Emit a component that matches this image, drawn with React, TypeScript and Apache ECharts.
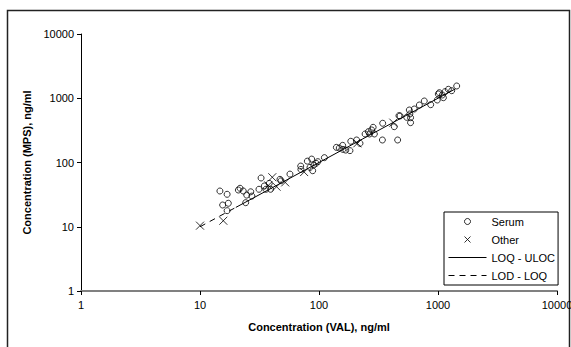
import React, { useEffect, useRef } from 'react';
import * as echarts from 'echarts';

// Serum samples: VAL concentration (x) vs MPS concentration (y), ng/ml
const serumX = [14.7, 16.9, 15.5, 17.3, 16.9, 21, 21.7, 23.1, 24.7, 26.7, 27.3, 24.2, 32.6, 31.3, 34.7, 35.8, 38.2, 39.2, 47, 48, 57, 70.2, 70.5, 79.8, 86.8, 84, 88.5, 90.5, 94.4, 97.8, 111, 140, 148, 158, 159, 168, 182, 185, 207, 221, 244, 260, 277, 285, 292, 266, 343, 341, 429, 458, 470, 480, 546, 574, 580, 588, 588, 632, 697, 767, 868, 986, 1006, 1026, 1087, 1110, 1145, 1222, 1304, 1436];
const serumY = [36, 32, 21.8, 23.2, 17.8, 37.3, 39.7, 36, 31.1, 35, 30, 23.7, 57.4, 38.3, 43.1, 38.3, 47.4, 38.3, 54.7, 52, 66, 88, 78, 105, 113, 84, 74.5, 91.4, 97.2, 103, 119, 172, 168, 185, 160, 156, 153, 214, 224, 199, 278, 302, 321, 353, 278, 278, 408, 224, 361, 224, 535, 530, 505, 656, 569, 498, 417, 680, 785, 906, 794, 939, 1164, 1220, 1124, 1020, 1265, 1377, 1312, 1552];

// Other samples
const otherX = [10, 15.7, 37.5, 40.5, 44, 52, 75, 210, 421];
const otherY = [10.4, 12.4, 44, 59, 42, 49, 71, 199, 417];

// Identity lines
const lodLoqX = [10, 20];
const lodLoqY = [10, 20];
const loqUlocX = [20, 1400];
const loqUlocY = [20, 1400];

const axisTicks = [1, 10, 100, 1000, 10000];

const FONT = '"Liberation Sans", Arial, sans-serif';

const zip = (xs: number[], ys: number[]) => xs.map((x, i) => [x, ys[i]]);

const hiddenSymbol = {
  color: 'rgba(0,0,0,0)',
  borderColor: 'rgba(0,0,0,0)',
  borderWidth: 0,
  opacity: 0,
};

export default function App() {
  const ref = useRef<HTMLDivElement>(null);
  useEffect(() => {
    if (!ref.current) return;
    const chart = echarts.init(ref.current, undefined, { renderer: 'svg' });
    const axisCommon = {
      type: 'log' as const,
      logBase: 10,
      min: axisTicks[0],
      max: axisTicks[axisTicks.length - 1],
      splitLine: { show: false },
      minorTick: { show: false },
      axisLabel: {
        fontFamily: FONT,
        fontSize: 11,
        color: '#000',
        formatter: (v: number) => String(Math.round(v)),
      },
      nameLocation: 'middle' as const,
      nameTextStyle: { fontFamily: FONT, fontSize: 11, fontWeight: 'bold' as const, color: '#000' },
    };
    chart.setOption({
      animation: false,
      backgroundColor: '#fff',
      grid: { left: 81, right: 14, top: 34, bottom: 56, outerBoundsMode: 'none' },
      xAxis: {
        ...axisCommon,
        name: 'Concentration (VAL), ng/ml',
        nameGap: 30,
        axisLine: { show: true, lineStyle: { color: '#808080', width: 2 } },
        axisTick: { show: true, length: 4, lineStyle: { color: '#000', width: 1 } },
        axisLabel: { ...axisCommon.axisLabel, margin: 8 },
      },
      yAxis: {
        ...axisCommon,
        name: 'Concentration (MPS), ng/ml',
        nameGap: 46,
        nameRotate: 90,
        axisLine: { show: true, lineStyle: { color: '#000', width: 1 } },
        axisTick: { show: true, length: 4, lineStyle: { color: '#000', width: 1 } },
        axisLabel: { ...axisCommon.axisLabel, margin: 7 },
      },
      legend: {
        orient: 'vertical',
        left: 444,
        top: 212,
        padding: [4, 3, 4, 4],
        itemWidth: 38,
        itemHeight: 6,
        itemGap: 7,
        backgroundColor: '#fff',
        borderColor: '#000',
        borderWidth: 1,
        borderRadius: 0,
        textStyle: { fontFamily: FONT, fontSize: 11, color: '#000' },
        data: [
          { name: 'Serum', itemStyle: { borderWidth: 1 } },
          { name: 'Other', itemStyle: { borderWidth: 1 } },
          { name: 'LOQ - ULOC', itemStyle: hiddenSymbol, lineStyle: { width: 1 } },
          { name: 'LOD - LOQ', itemStyle: hiddenSymbol, lineStyle: { width: 1 } },
        ],
        z: 10,
      },
      graphic: [
        {
          type: 'rect',
          shape: { x: 7.5, y: 10.5, width: 562, height: 345 },
          style: { fill: 'none', stroke: '#222', lineWidth: 1.5 },
          silent: true,
        },
      ],
      series: [
        {
          name: 'LOQ - ULOC',
          type: 'line',
          data: zip(loqUlocX, loqUlocY),
          symbol: 'none',
          lineStyle: { color: '#000', width: 1 },
          itemStyle: { color: '#000' },
          z: 1,
        },
        {
          name: 'LOD - LOQ',
          type: 'line',
          data: zip(lodLoqX, lodLoqY),
          symbol: 'none',
          lineStyle: { color: '#000', width: 1, type: [6, 5] },
          itemStyle: { color: '#000' },
          z: 1,
        },
        {
          name: 'Serum',
          type: 'scatter',
          data: zip(serumX, serumY),
          symbol: 'circle',
          symbolSize: 6,
          itemStyle: { color: 'rgba(0,0,0,0)', borderColor: '#000', borderWidth: 1 },
          z: 2,
        },
        {
          name: 'Other',
          type: 'scatter',
          data: zip(otherX, otherY),
          symbol: 'path://M0,0L8,8M8,0L0,8',
          symbolSize: 8,
          itemStyle: { color: 'rgba(0,0,0,0)', borderColor: '#000', borderWidth: 1 },
          z: 2,
        },
      ],
    });
    return () => chart.dispose();
  }, []);
  return (
    <div
      ref={ref}
      style={{ position: 'fixed', left: 0, top: 0, width: 571, height: 347 }}
    />
  );
}
